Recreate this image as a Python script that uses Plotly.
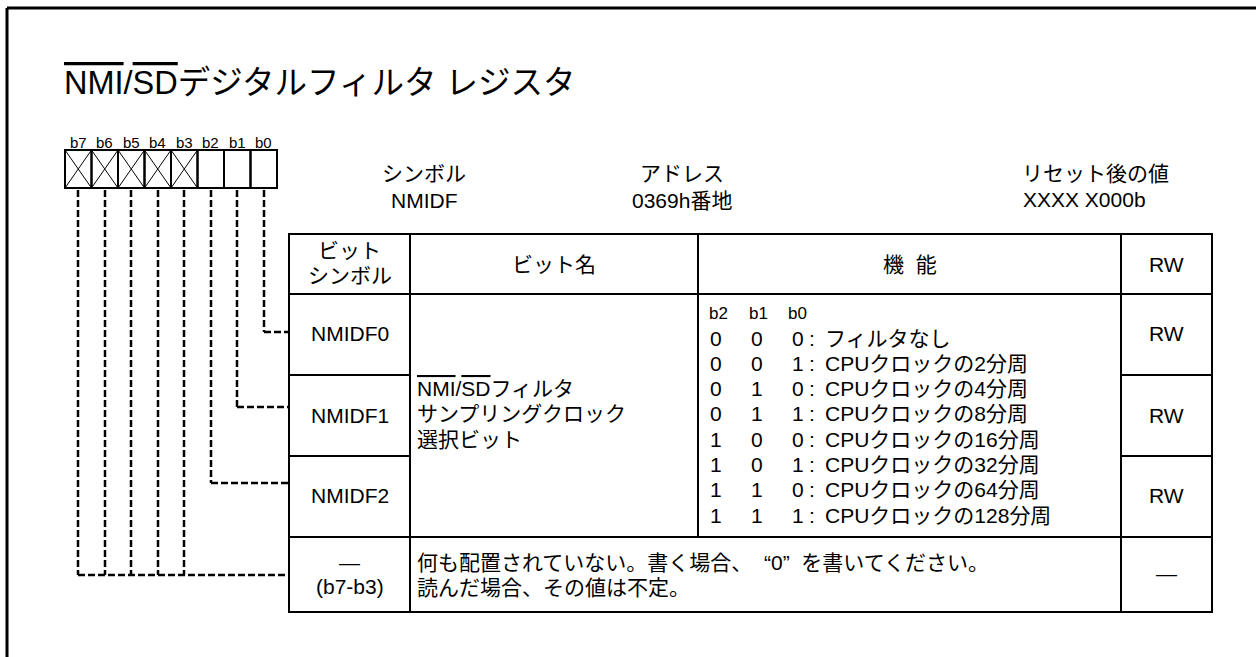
import plotly.graph_objects as go

W, H = 1256, 657
FONT = "Liberation Sans, Arial, Noto Sans CJK JP"
FS = 21


def ol(s):
    return '<span style="text-decoration:overline">' + s + '</span>'


# ---------------- data ----------------
TITLE = ol("NMI") + "/" + ol("SD") + "デジタルフィルタ レジスタ"
BIT_LABELS = ["b7", "b6", "b5", "b4", "b3", "b2", "b1", "b0"]
BIT_RESERVED = [True, True, True, True, True, False, False, False]
INFO_HEADERS = ["シンボル", "アドレス", "リセット後の値"]
INFO_VALUES = ["NMIDF", "0369h番地", "XXXX X000b"]
COL_HEADERS = ["ビット名", "機&nbsp;&nbsp;能", "RW"]
SYM_HEADER = ["ビット", "シンボル"]
ROW_SYMBOLS = ["NMIDF0", "NMIDF1", "NMIDF2"]
ROW_RW = ["RW", "RW", "RW"]
BIT_NAME_LINES = [ol("NMI") + "/" + ol("SD") + "フィルタ", "サンプリングクロック", "選択ビット"]
FUNC_HEADER = ["b2", "b1", "b0"]
FUNC_B2 = ["0", "0", "0", "0", "1", "1", "1", "1"]
FUNC_B1 = ["0", "0", "1", "1", "0", "0", "1", "1"]
FUNC_B0 = ["0", "1", "0", "1", "0", "1", "0", "1"]
FUNC_DESC = ["フィルタなし", "CPUクロックの2分周", "CPUクロックの4分周", "CPUクロックの8分周",
             "CPUクロックの16分周", "CPUクロックの32分周", "CPUクロックの64分周", "CPUクロックの128分周"]
RESERVED_SYMBOL = ["—", "(b7-b3)"]
RESERVED_TEXT = ["何も配置されていない。書く場合、&nbsp;&nbsp;“0”&nbsp;&nbsp;を書いてください。",
                 "読んだ場合、その値は不定。"]
RESERVED_RW = "—"

# ---------------- layout geometry ----------------
REG_X0, REG_W, REG_Y0, REG_Y1 = 65, 26.5, 150, 188
TX = [289, 410, 698, 1121, 1212]           # table column edges
TY = [234, 294, 375, 456, 537, 612]        # table row edges
CONN_Y = [332, 407, 483]                    # connector heights for b0, b1, b2
RES_Y = 575

shapes = []
annots = []


def line(x0, y0, x1, y1, w=2, dash=None):
    d = dict(color="black", width=w)
    if dash:
        d["dash"] = dash
    shapes.append(dict(type="line", xref="x", yref="y", x0=x0, y0=y0, x1=x1, y1=y1, line=d))


def text(x, y, s, size=FS, xa="center", ya="middle"):
    annots.append(dict(x=x, y=y, xref="x", yref="y", text=s, showarrow=False,
                       xanchor=xa, yanchor=ya, font=dict(family=FONT, size=size, color="black")))


# outer frame
line(7, 8, W + 10, 8, w=3)
line(7, 8, 7, H + 10, w=3)

# title
text(62, 83, TITLE, size=32.5, xa="left")

# register cells
for i, (lab, res) in enumerate(zip(BIT_LABELS, BIT_RESERVED)):
    x0 = REG_X0 + REG_W * i
    x1 = x0 + REG_W
    shapes.append(dict(type="rect", xref="x", yref="y", x0=x0, y0=REG_Y0, x1=x1, y1=REG_Y1,
                       line=dict(color="black", width=2)))
    if res:
        line(x0, REG_Y0, x1, REG_Y1, w=1)
        line(x0, REG_Y1, x1, REG_Y0, w=1)
    text((x0 + x1) / 2, 142, lab, size=15)

# connectors
DASH = "7px,3px"
DW = 2.5
centers = [round(REG_X0 + REG_W * (i + 0.5)) for i in range(len(BIT_LABELS))]
for k, idx in enumerate([7, 6, 5]):          # b0, b1, b2
    cx = centers[idx]
    line(cx, REG_Y1 + 2, cx, CONN_Y[k], w=DW, dash=DASH)
    line(cx, CONN_Y[k], TX[0], CONN_Y[k], w=DW, dash=DASH)
res_centers = [c for c, r in zip(centers, BIT_RESERVED) if r]
for cx in res_centers:
    line(cx, REG_Y1 + 2, cx, RES_Y, w=DW, dash=DASH)
line(res_centers[0], RES_Y, TX[0], RES_Y, w=DW, dash=DASH)

# info header
INFO_X = [424, 682, 1095]
for x, h in zip(INFO_X, INFO_HEADERS):
    text(x, 173, h)
text(INFO_X[0], 200, INFO_VALUES[0])
text(INFO_X[1], 200, INFO_VALUES[1])
text(1084, 199, INFO_VALUES[2])

# table lines
shapes.append(dict(type="rect", xref="x", yref="y", x0=TX[0], y0=TY[0], x1=TX[4], y1=TY[5],
                   line=dict(color="black", width=2)))
line(TX[0], TY[1], TX[4], TY[1])
line(TX[0], TY[4], TX[4], TY[4])
for yy in (TY[2], TY[3]):
    line(TX[0], yy, TX[1], yy)
    line(TX[3], yy, TX[4], yy)
line(TX[1], TY[0], TX[1], TY[5])
line(TX[2], TY[0], TX[2], TY[4])
line(TX[3], TY[0], TX[3], TY[5])

# header row
c1 = (TX[0] + TX[1]) / 2
text(c1, 250, SYM_HEADER[0])
text(c1, 275, SYM_HEADER[1])
text((TX[1] + TX[2]) / 2, 264, COL_HEADERS[0])
text((TX[2] + TX[3]) / 2, 264, COL_HEADERS[1])
text((TX[3] + TX[4]) / 2, 264, COL_HEADERS[2])

# bit rows
SYM_Y = [333, 415, 495]
for s, rw, y in zip(ROW_SYMBOLS, ROW_RW, SYM_Y):
    text(c1, y, s)
    text((TX[3] + TX[4]) / 2, y, rw)

# bit name
LINE_Y = [338 + 25.3 * i for i in range(len(FUNC_DESC))]
for k, s in enumerate(BIT_NAME_LINES):
    text(415, LINE_Y[2 + k], s, xa="left")

# function column
for x, h in zip([707, 747, 786], FUNC_HEADER):
    text(x, 313, h, size=17, xa="left")
for i in range(len(FUNC_DESC)):
    y = LINE_Y[i]
    text(708, y, FUNC_B2[i], xa="left")
    text(749, y, FUNC_B1[i], xa="left")
    text(790, y, FUNC_B0[i], xa="left")
    text(807, y, ":", xa="left")
    text(823, y, FUNC_DESC[i], xa="left")

# reserved row
text(c1, 562, RESERVED_SYMBOL[0])
text(c1, 586, RESERVED_SYMBOL[1])
text(415, 562, RESERVED_TEXT[0], xa="left")
text(415, 587, RESERVED_TEXT[1], xa="left")
text((TX[3] + TX[4]) / 2, 573, RESERVED_RW)

fig = go.Figure()
fig.update_layout(
    width=W, height=H, margin=dict(l=0, r=0, t=0, b=0),
    paper_bgcolor="white", plot_bgcolor="white",
    xaxis=dict(range=[0, W], visible=False, fixedrange=True),
    yaxis=dict(range=[H, 0], visible=False, fixedrange=True),
    shapes=shapes, annotations=annots, showlegend=False,
)
fig.write_html("out.html", config={"displayModeBar": False},
               post_script="document.body.style.margin='0';document.body.style.overflow='hidden';")
